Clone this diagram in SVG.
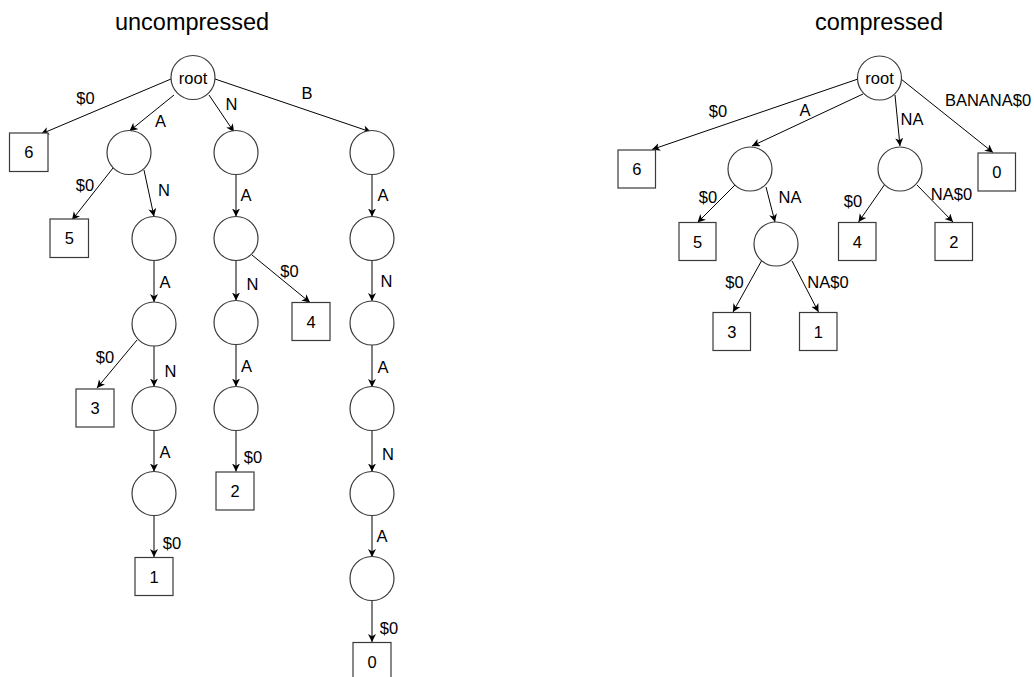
<svg xmlns="http://www.w3.org/2000/svg" width="1034" height="677" viewBox="0 0 1034 677">
  <defs>
    <marker id="arrow" markerUnits="userSpaceOnUse" markerWidth="10" markerHeight="9" refX="8" refY="4" orient="auto">
      <path d="M0,0 L8,4 L0,8 L2.2,4 Z" fill="#000"/>
    </marker>
  </defs>
  <style>
    .title { font-family: "Liberation Sans", Arial, sans-serif; font-size: 23.5px; fill: #000; text-anchor: middle; }
    .lbl { font-family: "Liberation Sans", Arial, sans-serif; font-size: 16.5px; fill: #000; text-anchor: middle; }
    .node circle, .node rect { fill: #fff; stroke: #3a3a3a; stroke-width: 1.2; }
    .node text { font-family: "Liberation Sans", Arial, sans-serif; font-size: 16.5px; fill: #000; text-anchor: middle; }
    .edges line { stroke: #000; stroke-width: 1; marker-end: url(#arrow); }
  </style>
  <rect width="1034" height="677" fill="#fff"/>

  <text class="title" x="192" y="30">uncompressed</text>
  <text class="title" x="879" y="30">compressed</text>

  <!-- uncompressed trie: edges -->
  <g id="edges-uncompressed" class="edges">
    <line x1="171" y1="79" x2="41" y2="134"/>
    <line x1="174" y1="95" x2="129.5" y2="131"/>
    <line x1="209" y1="95" x2="234" y2="132"/>
    <line x1="215" y1="79" x2="371" y2="132"/>
    <line x1="113" y1="168" x2="72" y2="220"/>
    <line x1="144" y1="170" x2="154" y2="216.5"/>
    <line x1="236" y1="174" x2="236" y2="216.5"/>
    <line x1="372" y1="174" x2="372" y2="216.5"/>
    <line x1="154" y1="260" x2="154" y2="302"/>
    <line x1="236" y1="260" x2="236" y2="300.5"/>
    <line x1="252" y1="255" x2="310" y2="302.5"/>
    <line x1="372" y1="260" x2="372" y2="301"/>
    <line x1="137" y1="340" x2="97" y2="388"/>
    <line x1="154" y1="346" x2="154" y2="386.5"/>
    <line x1="236" y1="344" x2="236" y2="386.5"/>
    <line x1="372" y1="345" x2="372" y2="387"/>
    <line x1="154" y1="430" x2="154" y2="471.5"/>
    <line x1="236" y1="430" x2="236" y2="471.5"/>
    <line x1="372" y1="430" x2="372" y2="471.5"/>
    <line x1="154" y1="515" x2="154" y2="557"/>
    <line x1="372" y1="515" x2="372" y2="557"/>
    <line x1="372" y1="600" x2="372" y2="642"/>
  </g>
  <g id="labels-uncompressed">
    <text class="lbl" x="85.5" y="104">$0</text>
    <text class="lbl" x="160.5" y="127">A</text>
    <text class="lbl" x="231.5" y="110">N</text>
    <text class="lbl" x="307" y="99">B</text>
    <text class="lbl" x="85" y="191">$0</text>
    <text class="lbl" x="164" y="196">N</text>
    <text class="lbl" x="246" y="201">A</text>
    <text class="lbl" x="383" y="201">A</text>
    <text class="lbl" x="165" y="288">A</text>
    <text class="lbl" x="252.5" y="290">N</text>
    <text class="lbl" x="289.5" y="277">$0</text>
    <text class="lbl" x="386.5" y="287">N</text>
    <text class="lbl" x="105" y="363">$0</text>
    <text class="lbl" x="170.5" y="377">N</text>
    <text class="lbl" x="246.5" y="372">A</text>
    <text class="lbl" x="383" y="373">A</text>
    <text class="lbl" x="165" y="458">A</text>
    <text class="lbl" x="253" y="463">$0</text>
    <text class="lbl" x="388" y="460">N</text>
    <text class="lbl" x="172" y="549">$0</text>
    <text class="lbl" x="382" y="542">A</text>
    <text class="lbl" x="389" y="634">$0</text>
  </g>

  <!-- uncompressed trie: nodes -->
  <g id="u-root" class="node"><circle cx="193" cy="77.5" r="22"/><text x="193" y="83.5">root</text></g>
  <g id="u-leaf6" class="node"><rect x="9.5" y="133" width="38.5" height="38.5"/><text x="28.8" y="158">6</text></g>
  <g id="u-A" class="node"><circle cx="129" cy="152.5" r="22"/></g>
  <g id="u-N" class="node"><circle cx="236" cy="152.5" r="22"/></g>
  <g id="u-B" class="node"><circle cx="372" cy="152.5" r="22"/></g>
  <g id="u-leaf5" class="node"><rect x="50" y="219" width="38.5" height="38.5"/><text x="69.3" y="244">5</text></g>
  <g id="u-AN" class="node"><circle cx="154" cy="238.5" r="22"/></g>
  <g id="u-NA" class="node"><circle cx="236" cy="238.5" r="22"/></g>
  <g id="u-BA" class="node"><circle cx="372" cy="238.5" r="22"/></g>
  <g id="u-ANA" class="node"><circle cx="154" cy="324" r="22"/></g>
  <g id="u-NAN" class="node"><circle cx="236" cy="322.5" r="22"/></g>
  <g id="u-leaf4" class="node"><rect x="292" y="302.5" width="38" height="38"/><text x="311" y="327.5">4</text></g>
  <g id="u-BAN" class="node"><circle cx="372" cy="323" r="22"/></g>
  <g id="u-leaf3" class="node"><rect x="76" y="389" width="38" height="38"/><text x="95" y="414">3</text></g>
  <g id="u-ANAN" class="node"><circle cx="154" cy="408.5" r="22"/></g>
  <g id="u-NANA" class="node"><circle cx="236" cy="408.5" r="22"/></g>
  <g id="u-BANA" class="node"><circle cx="372" cy="408.5" r="22"/></g>
  <g id="u-ANANA" class="node"><circle cx="154" cy="493.5" r="22"/></g>
  <g id="u-leaf2" class="node"><rect x="216" y="472" width="38" height="38"/><text x="235" y="497">2</text></g>
  <g id="u-BANAN" class="node"><circle cx="372" cy="493.5" r="22"/></g>
  <g id="u-leaf1" class="node"><rect x="135" y="557.5" width="38" height="38"/><text x="154" y="582.5">1</text></g>
  <g id="u-BANANA" class="node"><circle cx="372" cy="578.5" r="22"/></g>
  <g id="u-leaf0" class="node"><rect x="353" y="642.5" width="38" height="38"/><text x="372" y="667.5">0</text></g>

  <!-- compressed trie: edges -->
  <g id="edges-compressed" class="edges">
    <line x1="858" y1="79" x2="652" y2="149.5"/>
    <line x1="863" y1="94" x2="752" y2="146"/>
    <line x1="895" y1="95" x2="900" y2="146"/>
    <line x1="901" y1="79" x2="993" y2="152.5"/>
    <line x1="736" y1="184" x2="697.5" y2="222.5"/>
    <line x1="766" y1="187" x2="775" y2="222"/>
    <line x1="885" y1="184" x2="858.5" y2="222"/>
    <line x1="917" y1="185" x2="953" y2="222"/>
    <line x1="762" y1="260" x2="733" y2="312"/>
    <line x1="792" y1="261" x2="818.5" y2="312"/>
  </g>
  <g id="labels-compressed">
    <text class="lbl" x="718" y="117">$0</text>
    <text class="lbl" x="805" y="116">A</text>
    <text class="lbl" x="912" y="125">NA</text>
    <text class="lbl" x="988" y="106">BANANA$0</text>
    <text class="lbl" x="708" y="203">$0</text>
    <text class="lbl" x="790" y="203">NA</text>
    <text class="lbl" x="853" y="207">$0</text>
    <text class="lbl" x="951.5" y="200">NA$0</text>
    <text class="lbl" x="734.5" y="288">$0</text>
    <text class="lbl" x="828" y="288">NA$0</text>
  </g>

  <!-- compressed trie: nodes -->
  <g id="c-root" class="node"><circle cx="879.5" cy="78" r="22"/><text x="879.5" y="84">root</text></g>
  <g id="c-leaf6" class="node"><rect x="618" y="150" width="37.5" height="38"/><text x="636.8" y="175">6</text></g>
  <g id="c-A" class="node"><circle cx="750" cy="169" r="22"/></g>
  <g id="c-NA" class="node"><circle cx="900" cy="169" r="22"/></g>
  <g id="c-leaf0" class="node"><rect x="978" y="153" width="37.5" height="38"/><text x="996.8" y="178">0</text></g>
  <g id="c-leaf5" class="node"><rect x="679" y="222.5" width="37" height="38"/><text x="697.5" y="247.5">5</text></g>
  <g id="c-ANA" class="node"><circle cx="776" cy="244" r="22"/></g>
  <g id="c-leaf4" class="node"><rect x="838.5" y="222.5" width="37.5" height="38"/><text x="857.3" y="247.5">4</text></g>
  <g id="c-leaf2" class="node"><rect x="935" y="222.5" width="37.5" height="38"/><text x="953.8" y="247.5">2</text></g>
  <g id="c-leaf3" class="node"><rect x="713" y="312.5" width="37.5" height="38"/><text x="731.8" y="337.5">3</text></g>
  <g id="c-leaf1" class="node"><rect x="799.5" y="312.5" width="37.5" height="38"/><text x="818.3" y="337.5">1</text></g>
</svg>
